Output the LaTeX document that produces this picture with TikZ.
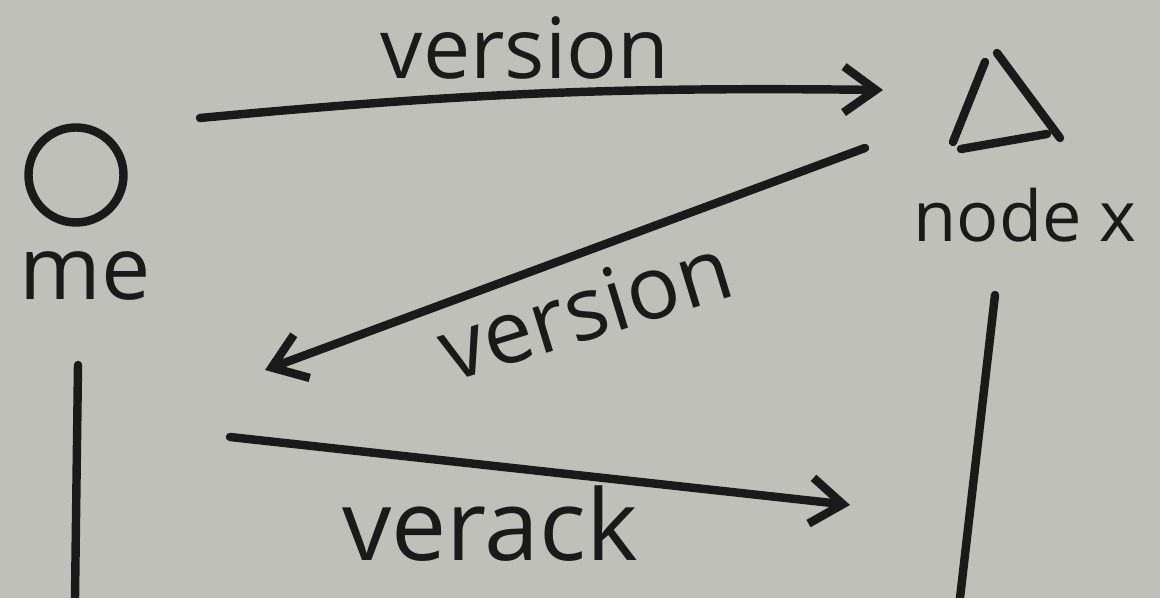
\documentclass[tikz,border=0pt]{standalone}
\usepackage{fontspec}
\setmainfont{Open Sans}
\usetikzlibrary{arrows.meta}
\definecolor{board}{RGB}{192,192,187}
\definecolor{ink}{RGB}{26,26,26}
\tikzset{
  pen/.style={ink, line width=2.4pt, line cap=round, line join=round},
  barb/.style={-{Straight Barb[length=3.2mm,width=4.6mm,line width=2.4pt]}},
  word/.style={ink, inner sep=0pt, font=\fontsize{#1}{#1}\selectfont},
  word/.default=24
}
\begin{document}
\begin{tikzpicture}
\fill[board] (0,0) rectangle (11.6,5.98);
\useasboundingbox (0,0) rectangle (11.6,5.98);
%%% the peer on the left: me
\node[pen, draw, circle, minimum size=0.95cm, inner sep=0pt] (me) at (0.76,4.23) {};
\node[word=25] (melabel) at (0.85,3.22) {me};
\coordinate (metop) at (0.78,2.33);
\coordinate (mebot) at (0.75,0);
\draw[pen] (metop) -- (mebot);
%%% the peer on the right: node x
\draw[pen] (9.85,5.36) -- (9.53,4.56);
\draw[pen] (9.97,5.45) -- (10.60,4.60);
\draw[pen] (9.61,4.49) -- (10.47,4.64);
\node[word=20] (nodex) at (10.25,3.83) {node x};
\coordinate (xtop) at (9.95,3.03);
\coordinate (xbot) at (9.60,0);
\draw[pen] (xtop) -- (xbot);
%%% messages
% version: me -> node x
\coordinate (v1from) at (2.0,4.80);
\coordinate (v1to) at (8.83,5.08);
\draw[pen, barb] (v1from) to[bend left=3] (v1to);
\node[word=24] (v1label) at (5.25,5.50) {version};
% version: node x -> me
\coordinate (v2from) at (8.65,4.50);
\coordinate (v2to) at (2.65,2.28);
\draw[pen, barb] (v2from) -- (v2to);
\node[word=25, rotate=17] (v2label) at (5.85,2.90) {version};
% verack: me -> node x
\coordinate (v3from) at (2.30,1.61);
\coordinate (v3to) at (8.50,0.93);
\draw[pen, barb] (v3from) -- (v3to);
\node[word=28] (v3label) at (4.90,0.74) {verack};
\end{tikzpicture}
\end{document}
